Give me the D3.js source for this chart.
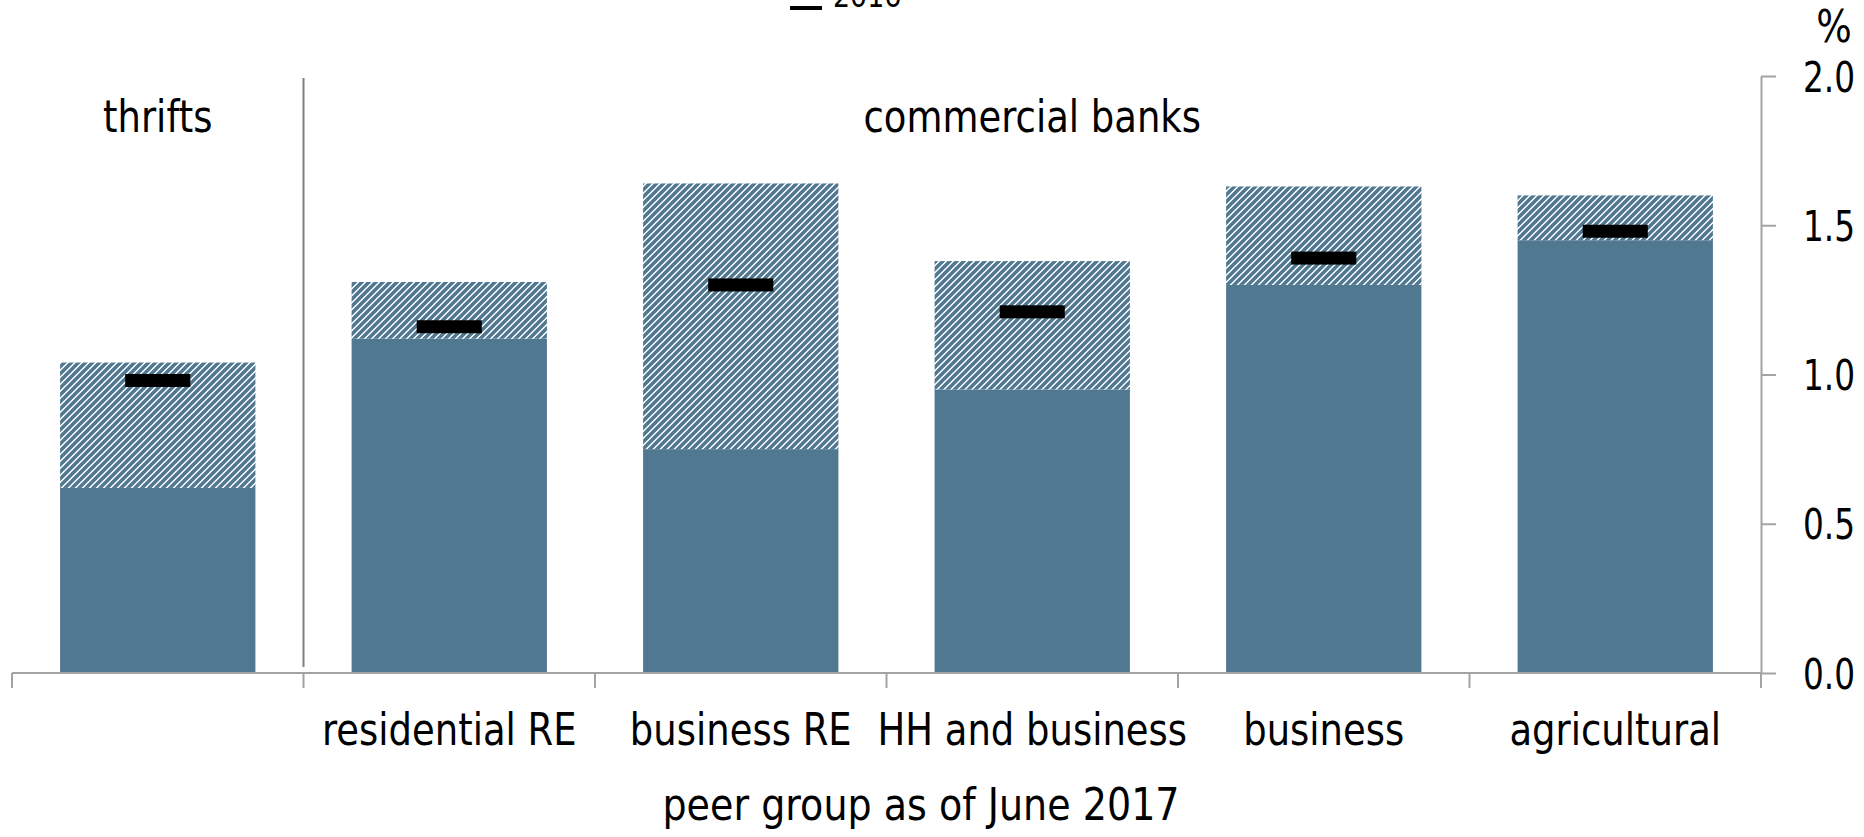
<!DOCTYPE html>
<html>
<head>
<meta charset="utf-8">
<script src="https://cdn.jsdelivr.net/npm/d3@7"></script>
<style>
  html, body { margin: 0; padding: 0; background: #fff; }
  svg { display: block; }
  text { font-family: "DejaVu Sans", Verdana, sans-serif; fill: #000; }
</style>
</head>
<body>
<svg id="chart" width="1864" height="837"></svg>
<script>
// Peer groups along the bottom axis
const categories = ["thrifts", "residential RE", "business RE", "HH and business", "business", "agricultural"];
const categoryLabels = ["", "residential RE", "business RE", "HH and business", "business", "agricultural"];
// Solid part of each bar (%)
const solidValues = [0.62, 1.12, 0.75, 0.95, 1.30, 1.45];
// Top of the hatched part of each bar (%)
const totalValues = [1.04, 1.31, 1.64, 1.38, 1.63, 1.60];
// 2016 markers (%)
const values2016 = [0.98, 1.16, 1.30, 1.21, 1.39, 1.48];
// Right-hand axis ticks
const yTicks = [0, 0.5, 1.0, 1.5, 2.0];
const groupLabels = [
  { text: "thrifts", from: 0, to: 0 },
  { text: "commercial banks", from: 1, to: 5 }
];
const legendLabel = "2016";
const xTitle = "peer group as of June 2017";

const barColor = "#517891";
const axisColor = "#a3a3a3";
const squeeze = 0.84;      // horizontal scale of label text
const tickSqueeze = 0.78;  // horizontal scale of axis numbers

const svg = d3.select("#chart");

const x = d3.scaleBand()
  .domain(categories)
  .range([12, 1761])
  .paddingInner(0.33)
  .paddingOuter(0.165);

const y = d3.scaleLinear().domain([0, 2]).range([673, 76]);

// diagonal hatch
const defs = svg.append("defs");
const pat = defs.append("pattern")
  .attr("id", "hatch")
  .attr("patternUnits", "userSpaceOnUse")
  .attr("width", 7).attr("height", 7);
pat.append("rect").attr("width", 7).attr("height", 7).attr("fill", "#fff");
pat.append("path")
  .attr("d", "M-1,1 l2,-2 M0,7 l7,-7 M6,8 l2,-2")
  .attr("stroke", barColor).attr("stroke-width", 3.6);

// helper: squeeze a text horizontally around its anchor
function squeezeText(sel, s) {
  sel.each(function () {
    const t = d3.select(this);
    const tx = +t.attr("x") || 0;
    const ty = +t.attr("y") || 0;
    t.attr("x", 0).attr("y", 0)
     .attr("transform", `translate(${tx},${ty}) scale(${s},1)`);
  });
}

// bars
const g = svg.append("g");
g.selectAll("rect.solid")
  .data(categories)
  .join("rect")
  .attr("class", "solid")
  .attr("x", d => x(d))
  .attr("width", x.bandwidth())
  .attr("y", (d, i) => y(solidValues[i]))
  .attr("height", (d, i) => y(0) - y(solidValues[i]))
  .attr("fill", barColor);

g.selectAll("rect.hatched")
  .data(categories)
  .join("rect")
  .attr("class", "hatched")
  .attr("x", d => x(d))
  .attr("width", x.bandwidth())
  .attr("y", (d, i) => y(totalValues[i]))
  .attr("height", (d, i) => y(solidValues[i]) - y(totalValues[i]))
  .attr("fill", "url(#hatch)");

// 2016 markers
const mw = x.bandwidth() / 3;
g.selectAll("rect.mark")
  .data(categories)
  .join("rect")
  .attr("class", "mark")
  .attr("x", d => x(d) + x.bandwidth() / 2 - mw / 2)
  .attr("width", mw)
  .attr("y", (d, i) => y(values2016[i]) - 6.5)
  .attr("height", 13)
  .attr("fill", "#000");

// separator between thrifts and commercial banks
const step = x.step();
const x0 = x.range()[0];
svg.append("line")
  .attr("x1", x0 + step).attr("x2", x0 + step)
  .attr("y1", 78).attr("y2", y(0) - 6)
  .attr("stroke", "#7f7f7f").attr("stroke-width", 2);

// group headings
svg.selectAll("text.group")
  .data(groupLabels)
  .join("text")
  .attr("class", "group")
  .attr("x", d => (x0 + d.from * step + x0 + (d.to + 1) * step) / 2)
  .attr("y", 132)
  .attr("text-anchor", "middle")
  .attr("font-size", 44)
  .text(d => d.text)
  .call(squeezeText, squeeze);

// bottom axis line and boundary ticks
svg.append("line")
  .attr("x1", x0).attr("x2", x.range()[1])
  .attr("y1", y(0)).attr("y2", y(0))
  .attr("stroke", axisColor).attr("stroke-width", 2);
svg.selectAll("line.btick")
  .data(d3.range(categories.length + 1))
  .join("line")
  .attr("class", "btick")
  .attr("x1", i => x0 + i * step).attr("x2", i => x0 + i * step)
  .attr("y1", y(0)).attr("y2", y(0) + 15)
  .attr("stroke", axisColor).attr("stroke-width", 2);

// category labels
const xAxis = svg.append("g")
  .attr("transform", `translate(0,${y(0)})`)
  .call(d3.axisBottom(x).tickSize(0).tickPadding(0)
    .tickFormat((d, i) => categoryLabels[i]));
xAxis.select(".domain").remove();
xAxis.selectAll("text")
  .attr("font-size", 44)
  .attr("font-family", "DejaVu Sans, Verdana, sans-serif")
  .attr("fill", "#000")
  .attr("dy", null)
  .attr("y", 72)
  .call(squeezeText, squeeze);

// axis title
svg.append("text")
  .attr("x", 921).attr("y", 820)
  .attr("text-anchor", "middle")
  .attr("font-size", 44)
  .text(xTitle)
  .call(squeezeText, 0.865);

// right axis
const yAxis = svg.append("g")
  .attr("transform", `translate(${x.range()[1]},0)`)
  .call(d3.axisRight(y).tickValues(yTicks).tickFormat(d3.format(".1f"))
    .tickSize(15).tickSizeOuter(0).tickPadding(27));
yAxis.selectAll("path, line").attr("stroke", axisColor).attr("stroke-width", 2);
yAxis.selectAll("text")
  .attr("font-size", 42)
  .attr("font-family", "DejaVu Sans, Verdana, sans-serif")
  .attr("fill", "#000")
  .call(squeezeText, tickSqueeze);
yAxis.selectAll("text").attr("dy", "0.36em");

// unit
svg.append("text")
  .attr("x", 1834).attr("y", 42)
  .attr("text-anchor", "middle")
  .attr("font-size", 44)
  .text("%")
  .call(squeezeText, 0.85);

// legend entry (2016 marker)
const lg = svg.append("g");
lg.append("rect").attr("x", 790).attr("y", 6).attr("width", 32).attr("height", 4).attr("fill", "#000");
lg.append("text")
  .attr("x", 833).attr("y", 7)
  .attr("font-size", 32)
  .text(legendLabel)
  .call(squeezeText, squeeze);
</script>
</body>
</html>
